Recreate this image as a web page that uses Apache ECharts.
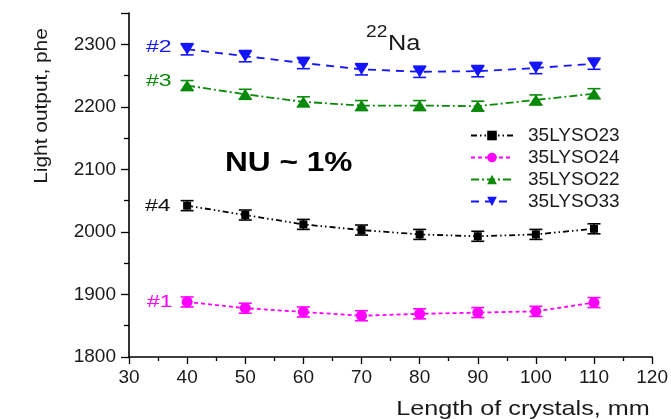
<!DOCTYPE html>
<html><head><meta charset="utf-8">
<script src="https://cdn.jsdelivr.net/npm/echarts@6/dist/echarts.min.js"></script>
<style>html,body{margin:0;padding:0;background:#fff}#c{width:671px;height:419px}</style>
</head><body><div id="c"></div>
<script>
const lengths = [40, 50, 60, 70, 80, 90, 100, 110];
const lyso23 = [2042, 2027, 2012, 2003, 1996, 1993, 1996, 2005];
const lyso24 = [1888, 1878, 1872, 1866, 1869, 1871, 1873, 1887];
const lyso22 = [2234, 2220, 2208, 2202, 2202, 2201, 2211, 2221];
const lyso33 = [2292, 2281, 2270, 2260, 2256, 2257, 2262, 2269];
const err23 = [8, 8, 8, 8, 8, 8, 8, 8];
const err24 = [8, 8, 8, 8, 8, 8, 8, 8];
const err22 = [8, 8, 8, 8, 8, 8, 8, 8];
const err33 = [9, 9, 9, 9, 9, 9, 9, 9];
const seriesNames = ['35LYSO23', '35LYSO24', '35LYSO22', '35LYSO33'];
const yTicks = [1800, 1900, 2000, 2100, 2200, 2300];

const FONT = 'Liberation Sans';
const chart = echarts.init(document.getElementById('c'));

function pts(vals) { return lengths.map((x, i) => [x, vals[i]]); }
function errData(vals, errs) { return lengths.map((x, i) => [x, vals[i] - errs[i], vals[i] + errs[i]]); }
function errSeries(vals, errs, color) {
  return {
    type: 'custom',
    data: errData(vals, errs),
    silent: true,
    z: 3,
    renderItem: function (params, api) {
      const x = api.value(0);
      const lo = api.coord([x, api.value(1)]);
      const hi = api.coord([x, api.value(2)]);
      const w = 6.5;
      const st = { stroke: color, lineWidth: 1.6 };
      return {
        type: 'group',
        children: [
          { type: 'line', shape: { x1: lo[0], y1: lo[1], x2: hi[0], y2: hi[1] }, style: st },
          { type: 'line', shape: { x1: lo[0] - w, y1: lo[1], x2: lo[0] + w, y2: lo[1] }, style: st },
          { type: 'line', shape: { x1: hi[0] - w, y1: hi[1], x2: hi[0] + w, y2: hi[1] }, style: st }
        ]
      };
    }
  };
}
function label(text, x, y, size, color, sx, extra) {
  return Object.assign({ type: 'text', x: x, y: y, scaleX: sx || 1,
    style: Object.assign({ text: text, fontFamily: FONT, fontSize: size, fill: color, align: 'left', verticalAlign: 'middle' }, extra || {}) });
}

const colors = ['#000000', '#ff00ff', '#0a8a0a', '#1414ff'];
const option = {
  animation: false,
  grid: { left: 129, right: 17, top: 13, bottom: 62 },
  xAxis: {
    type: 'value', min: 30, max: 120, interval: 10,
    axisLine: { show: true, lineStyle: { color: '#000', width: 1.6 } },
    axisTick: { show: true, inside: false, length: 7, lineStyle: { color: '#000', width: 1.3 } },
    minorTick: { show: true, splitNumber: 2, length: 4, lineStyle: { color: '#000', width: 1.3 } },
    splitLine: { show: false },
    axisLabel: { color: '#1a1a1a', fontFamily: FONT, fontSize: 19, margin: 11 }
  },
  yAxis: {
    type: 'value', min: 1800, max: 2350, interval: 100,
    axisLine: { show: true, lineStyle: { color: '#000', width: 1.6 } },
    axisTick: { show: true, inside: false, length: 8, lineStyle: { color: '#000', width: 1.3 } },
    minorTick: { show: true, splitNumber: 2, length: 5, lineStyle: { color: '#000', width: 1.3 } },
    splitLine: { show: false },
    axisLabel: {
      color: '#1a1a1a', fontFamily: FONT, fontSize: 19, margin: 13, showMaxLabel: false,
      formatter: v => (yTicks.indexOf(v) >= 0 ? String(v) : '')
    }
  },
  legend: {
    orient: 'vertical', left: 465, top: 121,
    itemWidth: 42, itemHeight: 12, itemGap: 3,
    textStyle: { fontFamily: FONT, fontSize: 19, lineHeight: 16, color: '#1a1a1a', padding: [0, 0, 0, 10] },
    data: seriesNames
  },
  series: [
    errSeries(lyso23, err23, colors[0]),
    errSeries(lyso24, err24, colors[1]),
    errSeries(lyso22, err22, colors[2]),
    errSeries(lyso33, err33, colors[3]),
    { name: seriesNames[0], type: 'line', data: pts(lyso23), color: colors[0], symbol: 'rect', symbolSize: 8,
      lineStyle: { color: colors[0], width: 1.8, type: [6, 3, 1.5, 3, 1.5, 3] }, z: 4 },
    { name: seriesNames[1], type: 'line', data: pts(lyso24), color: colors[1], symbol: 'circle', symbolSize: 11,
      lineStyle: { color: colors[1], width: 1.8, type: [4, 3] }, z: 4 },
    { name: seriesNames[2], type: 'line', data: pts(lyso22), color: colors[2], symbol: 'triangle', symbolSize: [14, 11],
      lineStyle: { color: colors[2], width: 1.8, type: [8, 3, 2, 3] }, z: 4 },
    { name: seriesNames[3], type: 'line', data: pts(lyso33), color: colors[3], symbol: 'triangle', symbolRotate: 180, symbolSize: [14, 11],
      lineStyle: { color: colors[3], width: 1.8, type: [8, 6] }, z: 4 }
  ],
  graphic: [
    { type: 'text', x: 42, y: 106, rotation: Math.PI / 2, scaleX: 1.1,
      style: { text: 'Light output, phe', fontFamily: FONT, fontSize: 19, fill: '#1a1a1a', align: 'center', verticalAlign: 'middle' } },
    { type: 'text', x: 523, y: 409, scaleX: 1.2,
      style: { text: 'Length of crystals, mm', fontFamily: FONT, fontSize: 21, fill: '#1a1a1a', align: 'center', verticalAlign: 'middle' } },
    label('#2', 146, 47, 17, colors[3], 1.35),
    label('#3', 146, 81, 17, colors[2], 1.35),
    label('#4', 145, 206, 17, '#111', 1.35),
    label('#1', 147, 302, 17, colors[1], 1.35),
    label('NU ~ 1%', 225, 163, 28, '#000', 1.13, { fontWeight: 'bold' }),
    label('22', 366, 33, 16, '#1a1a1a', 1.2),
    label('Na', 388, 44, 22, '#1a1a1a', 1.15)
  ]
};
chart.setOption(option);
</script>
</body></html>
